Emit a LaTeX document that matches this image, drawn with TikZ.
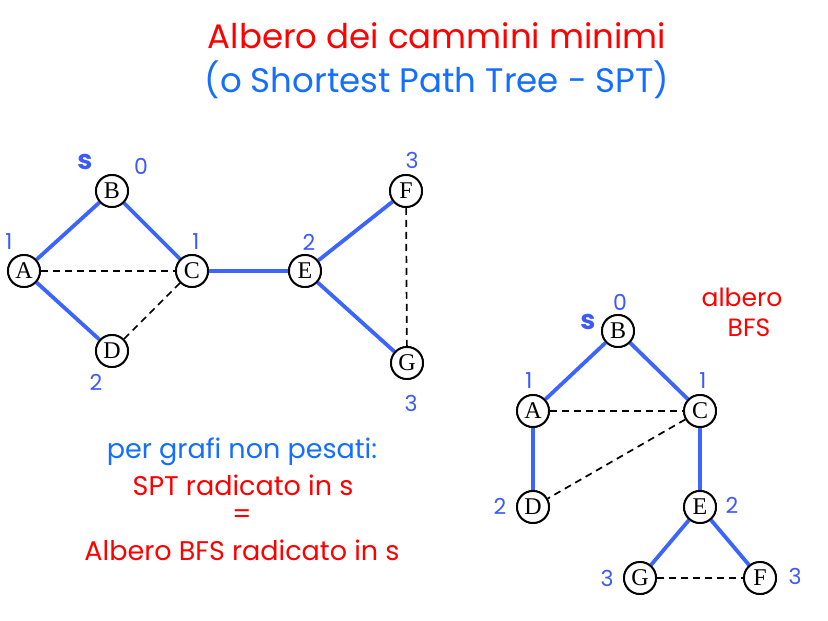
\documentclass[tikz,border=0pt]{standalone}
\usepackage{fontspec}
\setmainfont{Liberation Serif}
\newfontfamily\labelfont{Poppins}
\definecolor{myred}{RGB}{255,0,0}
\definecolor{textblue}{RGB}{20,110,255}
\definecolor{edgeblue}{RGB}{60,100,255}
\definecolor{numblue}{RGB}{60,90,250}
\begin{document}
\begin{tikzpicture}[x=1pt,y=-1pt,
  vertex/.style={circle,draw=black,line width=1.9pt,fill=white,inner sep=0pt,minimum size=32pt,font=\fontsize{24}{24}\selectfont},
  tree/.style={draw=edgeblue,line width=3.8pt},
  nontree/.style={draw=black,line width=1.7pt,dash pattern=on 7pt off 5pt},
  num/.style={text=numblue,font=\labelfont\fontsize{22}{22}\selectfont,inner sep=0pt},
  src/.style={text=numblue,font=\labelfont\bfseries\fontsize{27}{27}\selectfont,inner sep=0pt},
  caption/.style={font=\labelfont\fontsize{27}{27}\selectfont,inner sep=0pt}]
\useasboundingbox (0,0) rectangle (828,621);
\fill[white] (0,0) rectangle (828,621);

% title
\node[caption,text=myred,font=\labelfont\fontsize{34}{34}\selectfont] (t1) at (437,36) {Albero dei cammini minimi};
\node[caption,text=textblue,font=\labelfont\fontsize{34}{34}\selectfont] (t2) at (437,80) {(o Shortest Path Tree - SPT)};

% graph
\node[vertex] (lB) at (112,191) {B};
\node[vertex] (lA) at (24,271) {A};
\node[vertex] (lC) at (192,271) {C};
\node[vertex] (lD) at (112,351) {D};
\node[vertex] (lE) at (305,271) {E};
\node[vertex] (lF) at (406,191) {F};
\node[vertex] (lG) at (407,363) {G};
\path[tree] (lA) -- (lB);
\path[tree] (lB) -- (lC);
\path[tree] (lA) -- (lD);
\path[tree] (lC) -- (lE);
\path[tree] (lE) -- (lF);
\path[tree] (lE) -- (lG);
\path[nontree] (lA) -- (lC);
\path[nontree] (lC) -- (lD);
\path[nontree] (lF) -- (lG);
\foreach \n/\t in {lA/A,lB/B,lC/C,lD/D,lE/E,lF/F,lG/G}
  \node[vertex] at (\n) {\t};

\node[src] (ls) at (85,162) {s};
\node[num] (l0) at (141,166) {0};
\node[num] (l1a) at (9,242) {1};
\node[num] (l1c) at (196,242) {1};
\node[num] (l2d) at (96,382) {2};
\node[num] (l2e) at (309,242) {2};
\node[num] (l3f) at (412,160) {3};
\node[num] (l3g) at (411,403) {3};

% tree
\node[vertex] (rB) at (618,331) {B};
\node[vertex] (rA) at (533,411) {A};
\node[vertex] (rC) at (700,411) {C};
\node[vertex] (rD) at (533,507) {D};
\node[vertex] (rE) at (700,507) {E};
\node[vertex] (rG) at (640,578) {G};
\node[vertex] (rF) at (760,578) {F};
\path[tree] (rB) -- (rA);
\path[tree] (rB) -- (rC);
\path[tree] (rA) -- (rD);
\path[tree] (rC) -- (rE);
\path[tree] (rE) -- (rG);
\path[tree] (rE) -- (rF);
\path[nontree] (rA) -- (rC);
\path[nontree] (rC) -- (rD);
\path[nontree] (rG) -- (rF);
\foreach \n/\t in {rA/A,rB/B,rC/C,rD/D,rE/E,rF/F,rG/G}
  \node[vertex] at (\n) {\t};

\node[src] (rs) at (588,322) {s};
\node[num] (r0) at (620,302) {0};
\node[num] (r1a) at (529,381) {1};
\node[num] (r1c) at (703,381) {1};
\node[num] (r2d) at (500,506) {2};
\node[num] (r2e) at (732,505) {2};
\node[num] (r3g) at (607,578) {3};
\node[num] (r3f) at (795,576) {3};

\node[caption,text=myred,font=\labelfont\fontsize{25}{25}\selectfont] (bfs1) at (742,297) {albero};
\node[caption,text=myred,font=\labelfont\fontsize{25}{25}\selectfont] (bfs2) at (749,328) {BFS};

% note
\node[caption,text=textblue] (n1) at (242,452) {per grafi non pesati:};
\node[caption,text=myred] (n2) at (243,485) {SPT radicato in s};
\node[caption,text=myred] (n3) at (242,517) {=};
\node[caption,text=myred] (n4) at (242,550) {Albero BFS radicato in s};
\end{tikzpicture}
\end{document}
